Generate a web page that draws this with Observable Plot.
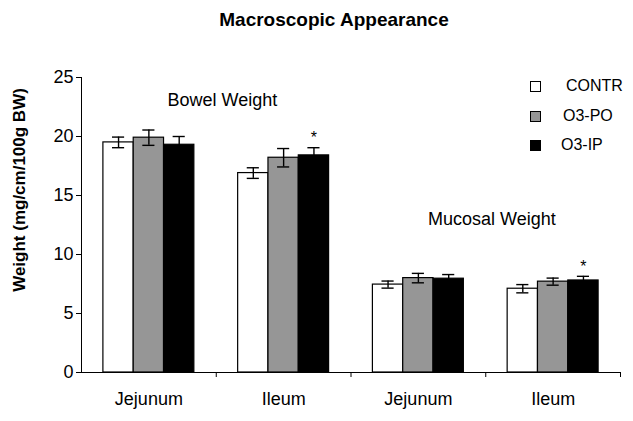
<!DOCTYPE html>
<html><head><meta charset="utf-8">
<script src="https://cdn.jsdelivr.net/npm/d3@7"></script>
<script src="https://cdn.jsdelivr.net/npm/@observablehq/plot@0.6"></script>
<style>
body{margin:0;background:#fff;font-family:"Liberation Sans",Arial,sans-serif;color:#000;}
#wrap{position:relative;width:633px;height:421px;overflow:hidden;}
#title{height:40px;line-height:40px;text-align:center;font-weight:bold;font-size:19px;padding-left:35px;box-sizing:border-box;}
.leg{position:absolute;font-size:16px;line-height:18px;}
.sw{position:absolute;width:9px;height:9px;border:1px solid #000;}
#ylabel{position:absolute;left:20px;top:190px;transform:translate(-50%,-50%) rotate(-90deg);white-space:nowrap;font-weight:bold;font-size:17px;line-height:20px;}
</style>
</head><body>
<div id="wrap">
  <div id="title">Macroscopic Appearance</div>
  <div id="chart"></div>
  <div id="ylabel"></div>
</div>
<script>
// ---- data ----
const categories = ["Jejunum", "Ileum", "Jejunum", "Ileum"];
const series = ["CONTR", "O3-PO", "O3-IP"];
const seriesColors = ["#ffffff", "#969696", "#000000"];
const contrMean = [19.5, 16.9, 7.45, 7.1];
const contrErr  = [0.45, 0.45, 0.3, 0.35];
const poMean    = [19.9, 18.2, 8.0, 7.7];
const poErr     = [0.65, 0.78, 0.4, 0.3];
const ipMean    = [19.3, 18.4, 7.95, 7.8];
const ipErr     = [0.7, 0.65, 0.35, 0.35];
const ipSignificant = [false, true, false, true];
const groupLabels = ["Bowel Weight", "Mucosal Weight"];
const yTicks = [0, 5, 10, 15, 20, 25];
const yLabel = "Weight (mg/cm/100g BW)";

// ---- table ----
const means = [contrMean, poMean, ipMean];
const errs = [contrErr, poErr, ipErr];
const sigs = [categories.map(() => false), categories.map(() => false), ipSignificant];
const rows = [];
categories.forEach((c, i) => series.forEach((s, j) => rows.push({
  i, j, cat: c, series: s, mean: means[j][i], err: errs[j][i], sig: sigs[j][i]
})));

const w = 0.225;                       // bar width in category units
const left = r => r.i + 0.5 - 1.5 * w + r.j * w;
const center = r => left(r) + w / 2;
const cap = 0.045;

const annotations = groupLabels.map((t, k) => ({text: t, x: 2 * k + 1.045, y: k === 0 ? 23.1 : 13.0}));

const chart = Plot.plot({
  width: 633, height: 381,
  marginTop: 37, marginBottom: 49, marginLeft: 81, marginRight: 13,
  x: {type: "linear", domain: [0, 4]},
  y: {domain: [0, 25]},
  color: {domain: series, range: seriesColors},
  style: {fontFamily: "Liberation Sans, Arial, sans-serif", fontSize: "18px", background: "#fff", color: "#000"},
  marks: [
    Plot.rectY(rows, {x1: left, x2: r => left(r) + w, y1: 0, y2: "mean", fill: "series", stroke: "#000", strokeWidth: 1.2}),
    Plot.ruleX(rows, {x: center, y1: r => r.mean - r.err, y2: r => r.mean + r.err, stroke: "#000", strokeWidth: 1.4}),
    Plot.ruleY(rows, {y: r => r.mean + r.err, x1: r => center(r) - cap, x2: r => center(r) + cap, stroke: "#000", strokeWidth: 1.4}),
    Plot.ruleY(rows, {y: r => r.mean - r.err, x1: r => center(r) - cap, x2: r => center(r) + cap, stroke: "#000", strokeWidth: 1.4}),
    Plot.text(rows.filter(r => r.sig), {x: center, y: r => r.mean + r.err, text: () => "*", dy: -9.5, fontSize: 16, fill: "#000"}),
    Plot.ruleX([0], {stroke: "#000"}),
    Plot.ruleY([0], {stroke: "#000"}),
    Plot.axisY({ticks: yTicks, tickSize: 5, tickPadding: 3, label: null, fontSize: 18}),
    Plot.axisX({ticks: categories.map((c, i) => i + 1), tickSize: 5, tickFormat: () => "", label: null}),
    Plot.axisX({ticks: categories.map((c, i) => i + 0.5), tickSize: 0, tickPadding: 20, tickFormat: d => categories[Math.floor(d)], label: null, fontSize: 18}),
    Plot.text(annotations, {x: "x", y: "y", text: "text", fontSize: 18, fill: "#000"})
  ]
});
document.getElementById("chart").appendChild(chart);
document.getElementById("ylabel").textContent = yLabel;

// ---- legend ----
const wrap = document.getElementById("wrap");
const legTops = [86, 116, 145];
const legTextLeft = [566, 563, 561];
series.forEach((s, k) => {
  const sw = document.createElement("div");
  sw.className = "sw";
  sw.style.left = "530px";
  sw.style.top = (legTops[k] - 5) + "px";
  sw.style.background = seriesColors[k];
  wrap.appendChild(sw);
  const t = document.createElement("div");
  t.className = "leg";
  t.textContent = s;
  t.style.left = legTextLeft[k] + "px";
  t.style.top = (legTops[k] - 9) + "px";
  wrap.appendChild(t);
});
</script>
</body></html>
